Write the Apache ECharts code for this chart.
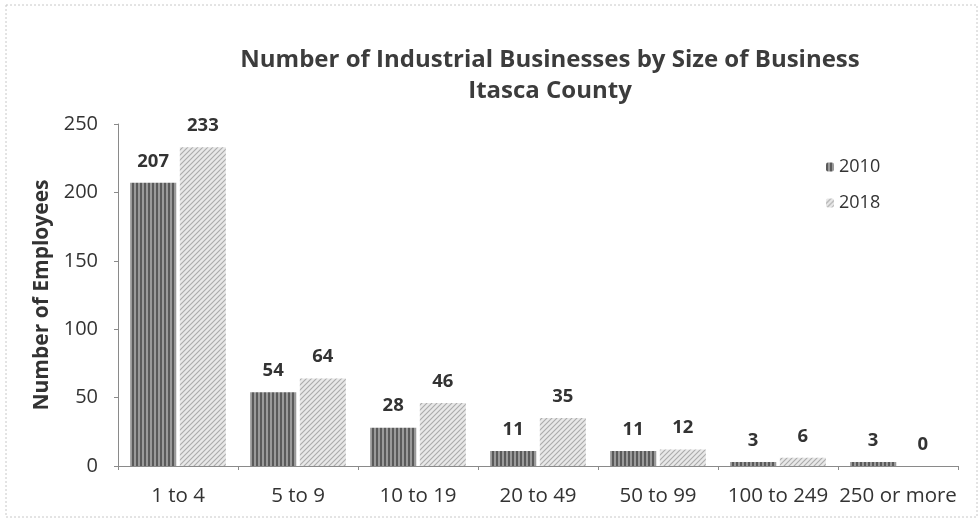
<!DOCTYPE html>
<html>
<head>
<meta charset="utf-8">
<script src="https://cdn.jsdelivr.net/npm/echarts@6/dist/echarts.min.js"></script>
<style>
  html, body { margin: 0; padding: 0; background: #fff; }
  #chart { width: 979px; height: 524px; }
</style>
</head>
<body>
<div id="chart"></div>
<script>
// Business size classes and counts per year
const categories = ['1 to 4', '5 to 9', '10 to 19', '20 to 49', '50 to 99', '100 to 249', '250 or more'];
const values2010 = [207, 54, 28, 11, 11, 3, 3];
const values2018 = [233, 64, 46, 35, 12, 6, 0];
const yTicks = [0, 50, 100, 150, 200, 250];

// Fill patterns: vertical stripes for 2010, diagonal hatching for 2018
function stripePattern() {
  const c = document.createElement('canvas');
  c.width = 4; c.height = 4;
  const g = c.getContext('2d');
  g.fillStyle = '#9a9a9a';
  g.fillRect(0, 0, 4, 4);
  g.fillStyle = '#5a5a5a';
  g.fillRect(0, 0, 2, 4);
  return c;
}
function hatchPattern() {
  const c = document.createElement('canvas');
  c.width = 5; c.height = 5;
  const g = c.getContext('2d');
  g.fillStyle = '#e8e8e8';
  g.fillRect(0, 0, 5, 5);
  g.strokeStyle = '#ababab';
  g.lineWidth = 1.1;
  g.beginPath();
  g.moveTo(0, 5); g.lineTo(5, 0);
  g.moveTo(-2.5, 2.5); g.lineTo(2.5, -2.5);
  g.moveTo(2.5, 7.5); g.lineTo(7.5, 2.5);
  g.stroke();
  return c;
}

const fill2010 = { image: stripePattern(), repeat: 'repeat' };
const fill2018 = { image: hatchPattern(), repeat: 'repeat' };

const font = '"Open Sans", "Noto Sans", sans-serif';
const chart = echarts.init(document.getElementById('chart'), null, { renderer: 'canvas' });

const labelStyle = {
  show: true,
  position: 'top',
  distance: 12,
  fontFamily: font,
  fontWeight: 'bold',
  fontSize: 18.5,
  color: '#333'
};

chart.setOption({
  animation: false,
  backgroundColor: '#fff',
  graphic: [{
    type: 'rect',
    shape: { x: 6, y: 5, width: 971, height: 512 },
    style: { fill: 'none', stroke: '#c8c8c8', lineWidth: 1, lineDash: [2, 2] },
    silent: true
  }],
  title: {
    text: 'Number of Industrial Businesses by Size of Business\nItasca County',
    left: 545,
    textAlign: 'center',
    top: 40,
    textStyle: {
      fontFamily: font,
      fontWeight: 'bold',
      fontSize: 24,
      color: '#3c3c3c',
      lineHeight: 31
    }
  },
  legend: {
    orient: 'vertical',
    left: 821,
    top: 153,
    itemWidth: 8,
    itemHeight: 9,
    itemGap: 18,
    textStyle: { fontFamily: font, fontSize: 18, color: '#333' },
    data: ['2010', '2018']
  },
  grid: { left: 118, right: 21, top: 124, bottom: 58, containLabel: false },
  xAxis: {
    type: 'category',
    data: categories,
    axisLine: { lineStyle: { color: '#8a8a8a', width: 1 } },
    axisTick: { show: true, length: 4, lineStyle: { color: '#8a8a8a' } },
    axisLabel: { interval: 0, fontFamily: font, fontSize: 20.5, color: '#333', margin: 20 }
  },
  yAxis: {
    type: 'value',
    min: yTicks[0],
    max: yTicks[yTicks.length - 1],
    interval: 50,
    name: 'Number of Employees',
    nameLocation: 'middle',
    nameGap: 64,
    nameTextStyle: { fontFamily: font, fontWeight: 'bold', fontSize: 21, color: '#333' },
    axisLine: { show: true, lineStyle: { color: '#8a8a8a', width: 1 } },
    axisTick: { show: true, length: 4, lineStyle: { color: '#8a8a8a' } },
    splitLine: { show: false },
    axisLabel: { fontFamily: font, fontSize: 20, color: '#333', margin: 20 }
  },
  series: [
    {
      name: '2010',
      type: 'bar',
      data: values2010,
      barWidth: 46,
      barGap: '8%',
      itemStyle: { color: fill2010 },
      label: labelStyle
    },
    {
      name: '2018',
      type: 'bar',
      data: values2018,
      barWidth: 46,
      itemStyle: { color: fill2018 },
      label: labelStyle
    }
  ]
});
</script>
</body>
</html>
